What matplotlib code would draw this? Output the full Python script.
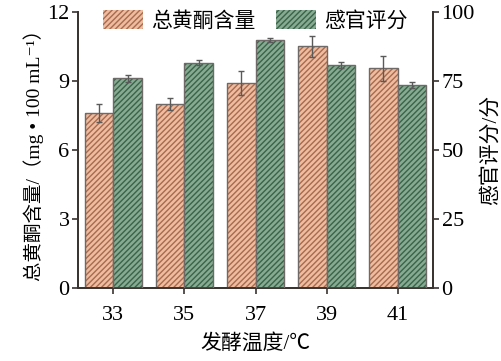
import matplotlib
matplotlib.use("Agg")
import matplotlib.pyplot as plt
import numpy as np
from matplotlib.patches import Patch

plt.rcParams['font.family'] = ['Liberation Serif', 'Noto Sans CJK SC', 'DejaVu Sans']
plt.rcParams['hatch.linewidth'] = 1.0

temps = ["33", "35", "37", "39", "41"]
flavonoid = [7.6, 8.0, 8.9, 10.5, 9.55]
flavonoid_err = [0.38, 0.25, 0.52, 0.47, 0.54]
sensory = [76.0, 81.6, 89.9, 80.7, 73.4]
sensory_err = [1.3, 0.9, 0.8, 1.1, 1.1]

x = np.arange(len(temps))
w = 0.4

fig = plt.figure(figsize=(5.02, 3.61), dpi=100)
ax = fig.add_axes([0.155, 0.202, 0.708, 0.765])
ax2 = ax.twinx()

# orange bars (hatch drawn with edgecolor), then gray outline
ax.bar(x - w/2, flavonoid, w, color='#eebc9e', edgecolor='#a86a50', hatch='//////', linewidth=0, zorder=2)
ax.bar(x - w/2, flavonoid, w, fill=False, edgecolor='#6e6a68', linewidth=1.0, zorder=3)
ax.errorbar(x - w/2, flavonoid, yerr=flavonoid_err, fmt='none', ecolor='#5a5a5a', elinewidth=1, capsize=2.5, zorder=4)

ax2.bar(x + w/2, sensory, w, color='#86aa92', edgecolor='#3a6449', hatch='//////', linewidth=0, zorder=2)
ax2.bar(x + w/2, sensory, w, fill=False, edgecolor='#6e6a68', linewidth=1.0, zorder=3)
ax2.errorbar(x + w/2, sensory, yerr=sensory_err, fmt='none', ecolor='#5a5a5a', elinewidth=1, capsize=2.5, zorder=4)

ax.set_xlim(-0.5, 4.5)
ax.set_ylim(0, 12)
ax.set_yticks([0, 3, 6, 9, 12])
ax2.set_ylim(0, 100)
ax2.set_yticks([0, 25, 50, 75, 100])
ax.set_xticks(x)
ax.set_xticklabels(temps)

for a in (ax, ax2):
    a.spines['top'].set_visible(False)
    for s in a.spines.values():
        s.set_color('#3a3330')
        s.set_linewidth(1.3)
    a.tick_params(labelsize=16, direction='out', length=4, width=1.2, color='#3a3330', pad=2)
ax.tick_params(axis='x', pad=9)

ax.set_xlabel("发酵温度/℃", fontsize=15, labelpad=6)
ax.set_ylabel("总黄酮含量/（mg • 100 mL⁻¹）", fontsize=14, labelpad=2)
ax2.set_ylabel("感官评分/分", fontsize=15, labelpad=4)

handles = [Patch(facecolor='#eebc9e', edgecolor='#a86a50', hatch='//////', linewidth=0),
           Patch(facecolor='#86aa92', edgecolor='#3a6449', hatch='//////', linewidth=0)]
ax.legend(handles, ["总黄酮含量", "感官评分"], loc='upper center', bbox_to_anchor=(0.5, 1.075),
          ncol=2, frameon=False, fontsize=15, handlelength=1.9, handleheight=1.0,
          columnspacing=1.0, handletextpad=0.4)

fig.savefig("out.png", dpi=100)
